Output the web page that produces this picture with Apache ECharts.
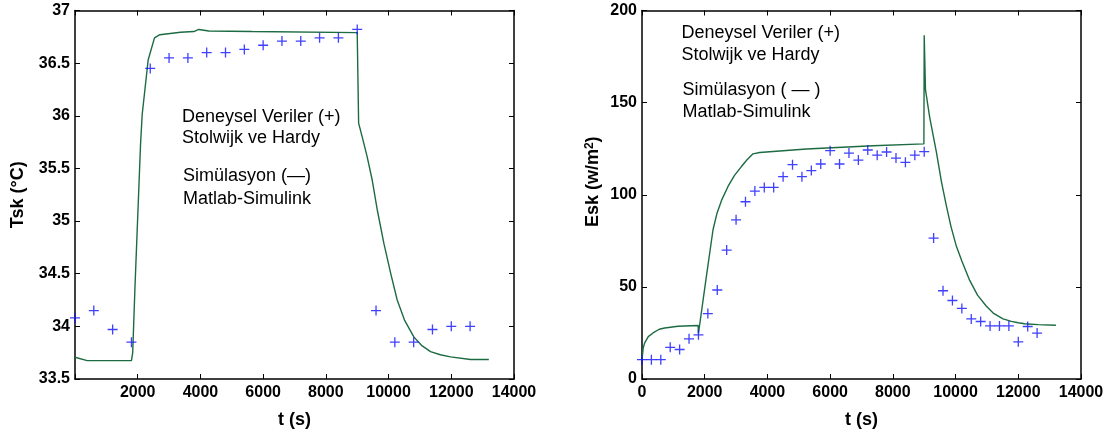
<!DOCTYPE html>
<html>
<head>
<meta charset="utf-8">
<script src="https://cdn.jsdelivr.net/npm/echarts@6/dist/echarts.min.js"></script>
<style>
html,body{margin:0;padding:0;background:#fff;}
#chart{width:1113px;height:434px;}
</style>
</head>
<body>
<div id="chart"></div>
<script>
// ---- Left panel: Tsk ----
const tskTime = [0,600,1200,1800,2400,3000,3600,4200,4800,5400,6000,6600,7200,7800,8400,9000,9600,10200,10800,11400,12000,12600];
const tskExp  = [34.08,34.15,33.97,33.85,36.45,36.55,36.55,36.60,36.60,36.63,36.67,36.71,36.71,36.74,36.74,36.82,34.15,33.85,33.85,33.97,34.00,34.00];
const tskSimTime  = [0,389,1800,1840,1910,2089,2142,2333,2535,2705,3365,3789,3949,4268,5650,5700,9000,9045,9159,9318,9478,9637,9849,10062,10275,10508,10805,11050,11337,11650,11975,12613,13197];
const tskSimValue = [33.707,33.675,33.675,33.75,34.35,35.72,36.01,36.53,36.74,36.77,36.793,36.80,36.82,36.805,36.80,36.79,36.79,35.93,35.80,35.61,35.39,35.11,34.79,34.51,34.25,34.06,33.90,33.82,33.76,33.73,33.71,33.685,33.685];

// ---- Right panel: Esk ----
const eskTime = [0,300,600,900,1200,1500,1800,2100,2400,2700,3000,3300,3600,3900,4200,4500,4800,5100,5400,5700,6000,6300,6600,6900,7200,7500,7800,8100,8400,8700,9000,9300,9600,9900,10200,10500,10800,11100,11400,11700,12000,12300,12600];
const eskExp  = [10.5,10.5,10.5,17.2,16,21.8,24,35.5,48.3,70,86.4,96.2,102,104,104,109.8,116.3,109.8,113.1,116.7,123.9,116.7,122.6,118.8,124.3,121.5,123.2,119.9,117.6,121.5,123.4,76.5,47.9,42.6,38.3,32.6,31.2,28.8,28.8,28.8,20.2,28.5,24.9];
const eskSimTime  = [0,40,86,200,351,550,724,1148,1790,1800,2031,2265,2392,2550,2743,2950,3170,3350,3540,3753,5243,7367,8990,9000,9040,9175,9390,9550,9707,9850,10026,10200,10451,10700,10983,11200,11514,11780,12000,12200,12629,13200];
const eskSimValue = [10.6,17,19.6,23,25,27,27.7,28.6,29,24.7,53,81,90,97.5,104.5,110.5,115.3,119,122.2,122.9,124.8,126.6,127.6,186.5,157,142,123,107,94,83,72,64,53.5,45.5,39.5,35.8,32.6,31.3,30.5,30,29.5,29.2];

// ---- Axis ticks ----
const tskTicks = {min: 33.5, max: 37, interval: 0.5};
const eskTicks = {min: 0, max: 200, interval: 50};
const timeTicks = {min: 0, max: 14000, interval: 2000};

const zip = (a, b) => a.map((v, i) => [v, b[i]]);

const FONT = '"Liberation Sans", Arial, Helvetica, sans-serif';
const plusPath = 'path://M4.35,0H5.65V4.35H10V5.65H5.65V10H4.35V5.65H0V4.35H4.35Z';
const lineColor = '#1d6b43';
const markColor = '#1010ff';

function xAx(grid, pos, showLabel, hideZero) {
  return {
    type: 'value', gridIndex: grid, position: pos,
    min: timeTicks.min, max: timeTicks.max, interval: timeTicks.interval,
    axisLine: {show: true, onZero: false, lineStyle: {color: '#000', width: 1.5}},
    axisTick: {show: true, inside: true, length: 5, lineStyle: {color: '#000', width: 1}},
    splitLine: {show: false},
    axisLabel: {show: showLabel, color: '#000', fontFamily: FONT, fontWeight: 'bold', fontSize: 16, margin: 6,
      formatter: v => (hideZero && v === 0) ? '' : String(v)},
    name: showLabel ? 't (s)' : '', nameLocation: 'middle', nameGap: 32,
    nameTextStyle: {color: '#000', fontFamily: FONT, fontWeight: 'bold', fontSize: 18}
  };
}
function yAx(grid, pos, ticks, showLabel, name, nameGap, nameStyle) {
  return {
    type: 'value', gridIndex: grid, position: pos,
    min: ticks.min, max: ticks.max, interval: ticks.interval,
    axisLine: {show: true, onZero: false, lineStyle: {color: '#000', width: 1.5}},
    axisTick: {show: true, inside: true, length: 5, lineStyle: {color: '#000', width: 1}},
    splitLine: {show: false},
    axisLabel: {show: showLabel, color: '#000', fontFamily: FONT, fontWeight: 'bold', fontSize: 16, margin: 5},
    name: showLabel ? name : '', nameLocation: 'middle', nameGap: nameGap,
    nameTextStyle: nameStyle
  };
}

const chart = echarts.init(document.getElementById('chart'), null, {renderer: 'canvas'});
const txt = (x, y, s) => ({type: 'text', x: x, y: y, silent: true,
  style: {text: s, font: '18px ' + FONT, fill: '#000', verticalAlign: 'middle', textVerticalAlign: 'middle'}});

chart.setOption({
  animation: false,
  backgroundColor: '#fff',
  grid: [
    {left: 75, top: 10.5, width: 439, height: 369},
    {left: 642, top: 10.5, width: 439, height: 369}
  ],
  xAxis: [
    xAx(0, 'bottom', true, true),
    xAx(0, 'top', false, false),
    xAx(1, 'bottom', true, false),
    xAx(1, 'top', false, false)
  ],
  yAxis: [
    yAx(0, 'left', tskTicks, true, 'Tsk (°C)', 48,
      {color: '#000', fontFamily: FONT, fontWeight: 'bold', fontSize: 18}),
    yAx(0, 'right', tskTicks, false, '', 0, {}),
    yAx(1, 'left', eskTicks, true, '{a|Esk (w/m}{b|2}{a|)}', 40,
      {color: '#000', fontFamily: FONT, fontWeight: 'bold', fontSize: 18, padding: [0, 0, 0, 26],
       rich: {
         a: {color: '#000', fontFamily: FONT, fontWeight: 'bold', fontSize: 18, lineHeight: 18, verticalAlign: 'bottom'},
         b: {color: '#000', fontFamily: FONT, fontWeight: 'bold', fontSize: 12, lineHeight: 16, verticalAlign: 'top'}
       }}),
    yAx(1, 'right', eskTicks, false, '', 0, {})
  ],
  series: [
    {type: 'line', xAxisIndex: 0, yAxisIndex: 0, data: zip(tskSimTime, tskSimValue),
     showSymbol: false, symbol: 'none', lineStyle: {color: lineColor, width: 1.4}, z: 2},
    {type: 'scatter', xAxisIndex: 0, yAxisIndex: 0, data: zip(tskTime, tskExp),
     symbol: plusPath, symbolSize: 10, itemStyle: {color: markColor}, z: 3},
    {type: 'line', xAxisIndex: 2, yAxisIndex: 2, data: zip(eskSimTime, eskSimValue),
     showSymbol: false, symbol: 'none', lineStyle: {color: lineColor, width: 1.4}, z: 2},
    {type: 'scatter', xAxisIndex: 2, yAxisIndex: 2, data: zip(eskTime, eskExp),
     symbol: plusPath, symbolSize: 10, itemStyle: {color: markColor}, z: 3}
  ],
  graphic: [
    txt(182, 117, 'Deneysel Veriler (+)'),
    txt(182, 138.5, 'Stolwijk ve Hardy'),
    txt(183, 176, 'Simülasyon (—)'),
    txt(183, 199, 'Matlab-Simulink'),
    txt(681.5, 33, 'Deneysel Veriler (+)'),
    txt(681.5, 55, 'Stolwijk ve Hardy'),
    txt(682.5, 90.5, 'Simülasyon ( — )'),
    txt(682.5, 112.5, 'Matlab-Simulink')
  ]
});
</script>
</body>
</html>
